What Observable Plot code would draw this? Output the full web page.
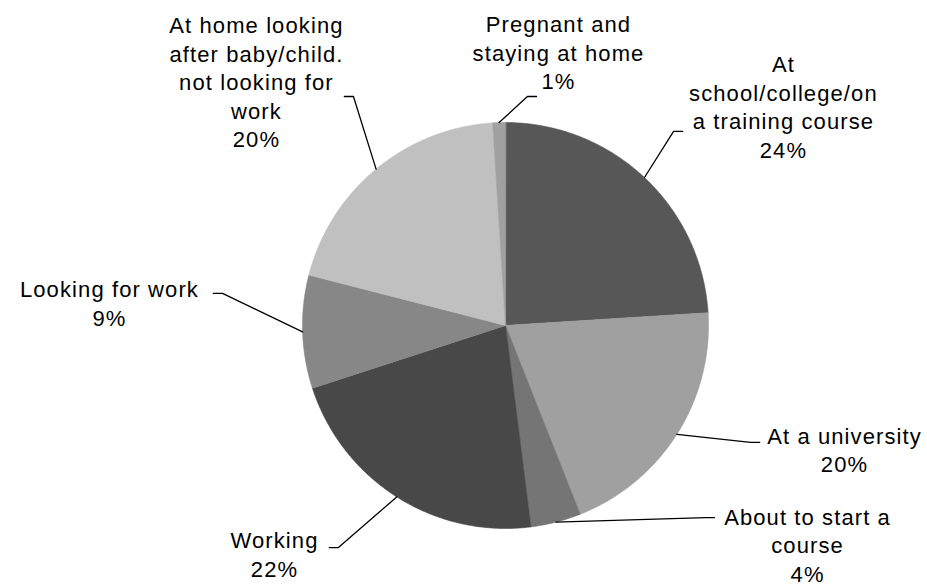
<!DOCTYPE html>
<html><head><meta charset="utf-8">
<script src="https://cdn.jsdelivr.net/npm/d3@7"></script>
<script src="https://cdn.jsdelivr.net/npm/@observablehq/plot@0.6"></script>
<style>html,body{margin:0;padding:0;background:#fff;} svg{display:block}</style>
</head><body><div id="chart"></div>
<script>
// ---- data ----
const categories = [
  "At school/college/on a training course",
  "At a university",
  "About to start a course",
  "Working",
  "Looking for work",
  "At home looking after baby/child. not looking for work",
  "Pregnant and staying at home"
];
const values = [24, 20, 4, 22, 9, 20, 1];
const labelLines = [
  ["At", "school/college/on", "a training course"],
  ["At a university"],
  ["About to start a", "course"],
  ["Working"],
  ["Looking for work"],
  ["At home looking", "after baby/child.", "not looking for", "work"],
  ["Pregnant and", "staying at home"]
];
const sliceColors = ["#575757", "#a0a0a0", "#757575", "#484848", "#878787", "#c0c0c0", "#a0a0a0"];

// ---- layout (pie radius = 1 unit, centre at origin) ----
const labelCenters = [[1.369, 1.081], [1.670, -0.607], [1.488, -1.078], [-1.138, -1.122], [-1.951, 0.114], [-1.227, 1.203], [0.261, 1.350]];
const leaderElbows = [[0.828, 0.956], [1.207, -0.576], [0.985, -0.946], [-0.823, -1.094], [-1.394, 0.158], [-0.749, 1.128], [0.108, 1.128]];
const leaderTail = 0.045;

const total = d3.sum(values);
let acc = 0;
const slices = values.map((v, i) => {
  const a0 = acc / total * 2 * Math.PI; acc += v;
  const a1 = acc / total * 2 * Math.PI;
  return {cat: categories[i], value: v, a0, a1, mid: (a0 + a1) / 2, i};
});

const piePts = slices.flatMap(s => {
  const pts = [{cat: s.cat, x: 0, y: 0}];
  const n = Math.max(2, Math.ceil((s.a1 - s.a0) / (Math.PI / 360)));
  for (let k = 0; k <= n; k++) {
    const t = s.a0 + (s.a1 - s.a0) * k / n;
    pts.push({cat: s.cat, x: Math.sin(t), y: Math.cos(t)});
  }
  return pts;
});

const leaderPts = slices.flatMap(s => {
  const [ex, ey] = leaderElbows[s.i];
  const side = Math.sign(labelCenters[s.i][0] - ex);
  return [
    {cat: s.cat, x: Math.sin(s.mid), y: Math.cos(s.mid)},
    {cat: s.cat, x: ex, y: ey},
    {cat: s.cat, x: ex + side * leaderTail, y: ey}
  ];
});

const labels = slices.map(s => ({
  x: labelCenters[s.i][0], y: labelCenters[s.i][1],
  text: [...labelLines[s.i], `${s.value}%`].join("\n")
}));

const W = 927, H = 588, R = 203, CX = 505, CY = 325;
const chart = Plot.plot({
  width: W, height: H, margin: 0,
  style: {fontFamily: "'Liberation Sans', Arial, sans-serif", letterSpacing: "1.1px", background: "#fff"},
  x: {domain: [-CX / R, (W - CX) / R], range: [0, W], axis: null},
  y: {domain: [-(H - CY) / R, CY / R], range: [H, 0], axis: null},
  color: {type: "ordinal", domain: categories, range: sliceColors},
  marks: [
    Plot.line(piePts, {x: "x", y: "y", z: "cat", fill: "cat", stroke: "cat", strokeWidth: 0.6, curve: "linear-closed"}),
    Plot.line(leaderPts, {x: "x", y: "y", z: "cat", stroke: "#000", strokeWidth: 1.3}),
    Plot.text(labels, {x: "x", y: "y", text: "text", fontSize: 22, lineHeight: 1.295, lineAnchor: "middle", textAnchor: "middle", fill: "#000"})
  ]
});
document.getElementById("chart").append(chart);
</script>
</body></html>
